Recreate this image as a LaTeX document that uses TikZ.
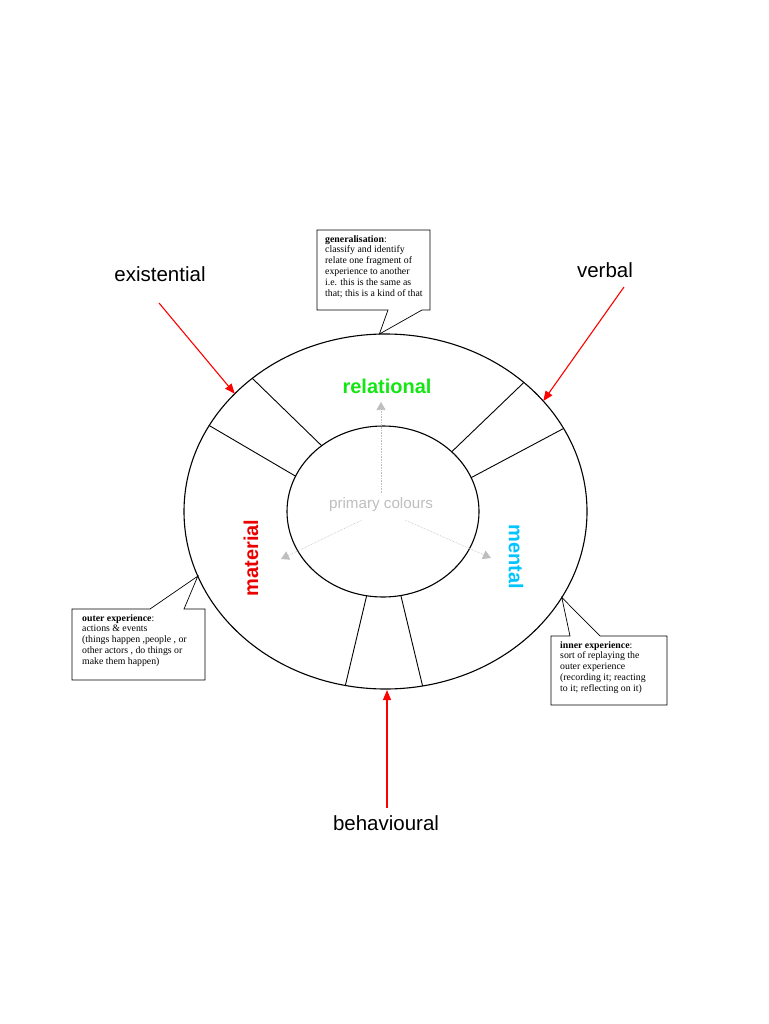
\documentclass[tikz,border=0pt]{standalone}
\usepackage{fontspec}
\setmainfont{Liberation Serif}
\setsansfont{Liberation Sans}
\usetikzlibrary{arrows.meta,shapes.geometric}
\definecolor{relgreen}{RGB}{20,230,20}
\definecolor{mentcyan}{RGB}{0,195,255}
\definecolor{matred}{RGB}{235,0,0}
\definecolor{pcgray}{RGB}{190,190,190}
\begin{document}
\begin{tikzpicture}[x=1pt,y=-1pt,
  ring/.style={ellipse,draw=black,line width=1.1pt,inner sep=0pt,outer sep=0pt},
  divider/.style={draw=black,line width=0.9pt},
  redarrow/.style={draw=red,line width=1.1pt,-{Triangle[length=10pt,width=8pt]}},
  grayarrow/.style={draw=pcgray,line width=0.6pt,densely dotted,-{Triangle[length=8pt,width=9pt]}},
  biglabel/.style={font=\sffamily\fontsize{20.5}{24}\selectfont,inner sep=0pt},
  procname/.style={font=\sffamily\bfseries\fontsize{20}{24}\selectfont,inner sep=0pt},
  calloutbox/.style={draw=black,line width=0.7pt},
  callouttext/.style={font=\fontsize{9.8}{10.8}\selectfont,align=left,inner sep=0pt,anchor=north west}
]
\useasboundingbox (0,0) rectangle (768,1024);

% rings
\node[ring,minimum width=403pt,minimum height=355pt] (outer) at (385.5,511.5) {};
\node[ring,minimum width=192pt,minimum height=171pt] (inner) at (383,511.5) {};

% dividers
\draw[divider] (outer.135) -- (inner.133);
\draw[divider] (outer.154.5) -- (inner.158);
\draw[divider] (outer.43.3) -- (inner.41.7);
\draw[divider] (outer.25.2) -- (inner.21);
\draw[divider] (outer.257.9) -- (inner.259.4);
\draw[divider] (outer.282) -- (inner.282.5);

% process names
\node[procname,text=relgreen] (relational) at (387,386) {relational};
\node[procname,text=mentcyan,rotate=-90] (mental) at (516,557) {mental};
\node[procname,text=matred,rotate=90] (material) at (251,558) {material};

% primary colours
\node[font=\sffamily\fontsize{15.2}{18}\selectfont,text=pcgray,inner sep=0pt] (primary) at (381,505) {primary colours};
\coordinate (gu0) at (381,493);
\coordinate (gu1) at (381,402);
\coordinate (gl0) at (362,520);
\coordinate (gl1) at (281,559);
\coordinate (gr0) at (405,520);
\coordinate (gr1) at (491,558);
\draw[grayarrow] (gu0) -- (gu1);
\draw[grayarrow] (gl0) -- (gl1);
\draw[grayarrow] (gr0) -- (gr1);

% outer labels and red arrows
\node[biglabel] (existential) at (160,274) {existential};
\node[biglabel] (verbal) at (605,270) {verbal};
\node[biglabel] (behavioural) at (386,823) {behavioural};
\coordinate (exstart) at (159,303);
\coordinate (vbstart) at (624,287);
\coordinate (bhstart) at (387,808);
\draw[redarrow] (exstart) -- (outer.142.8);
\draw[redarrow] (vbstart) -- (outer.35.1);
\draw[redarrow] (bhstart) -- (387,690);

% callout: generalisation (top)
\coordinate (gtip) at (outer.92);
\draw[calloutbox] (317,230) -- (430,230) -- (430,310) -- (422,310) -- (gtip) -- (388,310) -- (317,310) -- cycle;
\node[callouttext] (gentext) at (325,235) {\textbf{generalisation}:\\classify and identify\\relate one fragment of\\experience to another\\i.e. this is the same as\\that; this is a kind of that};

% callout: outer experience (left)
\coordinate (otip) at (outer.199);
\draw[calloutbox] (72,609) -- (150,609) -- (otip) -- (184,609) -- (205,609) -- (205,680) -- (72,680) -- cycle;
\node[callouttext] (outtext) at (82,614) {\textbf{outer experience}:\\actions \& events\\(things happen ,people , or\\other actors , do things or\\make them happen)};

% callout: inner experience (right)
\coordinate (itip) at (outer.334.5);
\draw[calloutbox] (551,636) -- (570,636) -- (itip) -- (600,636) -- (667,636) -- (667,705) -- (551,705) -- cycle;
\node[callouttext] (intext) at (560,641) {\textbf{inner experience}:\\sort of replaying the\\outer experience\\(recording it; reacting\\to it; reflecting on it)};
\end{tikzpicture}
\end{document}
